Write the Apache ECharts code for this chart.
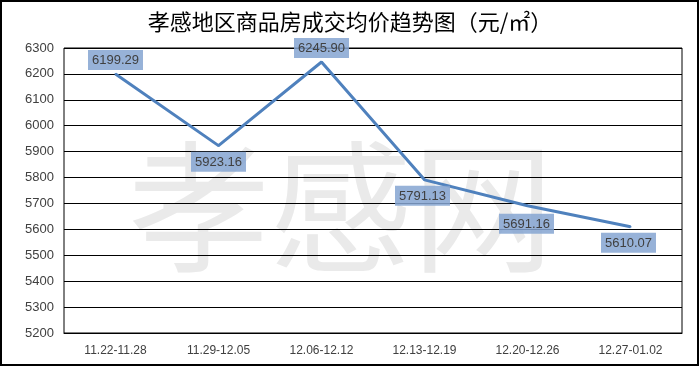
<!DOCTYPE html>
<html><head><meta charset="utf-8">
<script src="https://cdn.jsdelivr.net/npm/echarts@6/dist/echarts.min.js"></script>
<style>html,body{margin:0;padding:0;background:#fff}#c{width:700px;height:367px}</style>
</head><body><div id="c"></div>
<script>
const categories = ['11.22-11.28','11.29-12.05','12.06-12.12','12.13-12.19','12.20-12.26','12.27-01.02'];
const prices = [6199.29, 5923.16, 6245.90, 5791.13, 5691.16, 5610.07];
const labelPos = ['top','bottom','top','bottom','bottom','bottom'];
const labelOff = [[0,2],[0,0],[0,2],[-2,0],[-1,2],[-2,0]];
const chart = echarts.init(document.getElementById('c'), null, {renderer:'canvas'});
const lblBase = {show:true,formatter:p=>p.value.toFixed(2),color:'#404040',fontSize:13,fontFamily:'Liberation Sans',
      backgroundColor:'rgba(133,164,209,0.85)',padding:[4,4,3,4],distance:5};
chart.setOption({
  animation:false,
  title:{text:'孝感地区商品房成交均价趋势图（元/㎡）',left:'center',top:6,
    textStyle:{fontFamily:'Noto Sans CJK SC',fontSize:22,fontWeight:'normal',color:'#000'}},
  graphic:[
    {type:'rect',z:100,silent:true,shape:{x:1,y:1,width:697,height:364},style:{fill:'none',stroke:'#000',lineWidth:2}},
    {type:'text',z:-10,left:128,top:136,silent:true,style:{text:'孝感网',fontFamily:'Noto Sans CJK SC',fontSize:142,fontWeight:'normal',fill:'#eaeaea'}}
  ],
  grid:{left:64,right:18,top:48,bottom:34,show:true,borderColor:'#000',borderWidth:1,backgroundColor:'transparent'},
  xAxis:{type:'category',data:categories,boundaryGap:true,
    axisLine:{lineStyle:{color:'#000'}},axisTick:{show:false},
    axisLabel:{color:'#404040',fontSize:12,fontFamily:'Liberation Sans Narrow, Liberation Sans',margin:12}},
  yAxis:{type:'value',min:5200,max:6300,interval:100,
    axisLine:{show:false},axisTick:{show:false},
    axisLabel:{color:'#404040',fontSize:13,fontFamily:'Liberation Sans',margin:10,formatter:v=>String(v)},
    splitLine:{lineStyle:{color:'#000',width:1}}},
  series:[{type:'line',data:prices.map((v,i)=>({value:v,label:Object.assign({},lblBase,{position:labelPos[i],offset:labelOff[i]})})),
    symbol:'circle',symbolSize:2,showSymbol:true,itemStyle:{color:'#4F81BD'},lineStyle:{color:'#4F81BD',width:3},
    label:lblBase}]
});
</script></body></html>
